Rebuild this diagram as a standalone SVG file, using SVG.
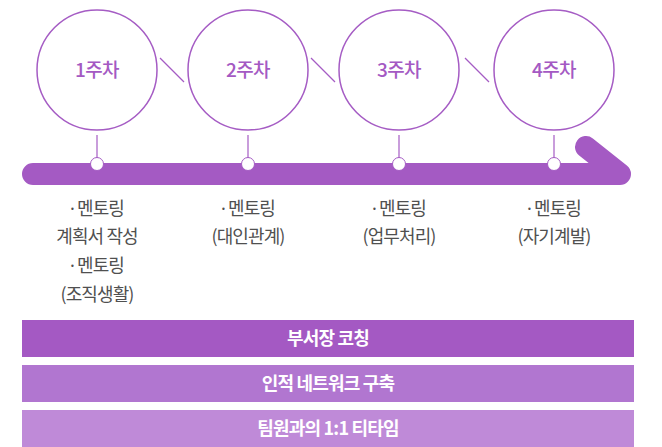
<svg xmlns="http://www.w3.org/2000/svg" width="662" height="447" viewBox="0 0 662 447">
<style>
.ring{fill:#fff;stroke:#a55cc4;stroke-width:1.5}
.wk{font-family:"Noto Sans CJK KR","Noto Sans",sans-serif;font-size:19px;font-weight:500;fill:#a459c3;text-anchor:middle;letter-spacing:-0.6px}
.lbl{font-family:"Noto Sans CJK KR","Noto Sans",sans-serif;font-size:18px;fill:#505050;text-anchor:middle;letter-spacing:-0.9px}
.md{font-family:"Noto Sans",sans-serif}
.band{font-family:"Noto Sans CJK KR","Noto Sans",sans-serif;font-size:18px;font-weight:700;fill:#fff;text-anchor:middle;letter-spacing:-0.8px}
.conn{stroke:#a55cc4;stroke-width:1.2;fill:none}
.dot{fill:#fff;stroke:#a55cc4;stroke-width:1}
</style>
<g id="timeline">
<path d="M33 174 H620 L586 147" fill="none" stroke="#a45ac3" stroke-width="22" stroke-linecap="round" stroke-linejoin="round"/>
</g>
<g id="connectors">
<line class="conn" x1="160" y1="58" x2="184" y2="82"/>
<line class="conn" x1="311" y1="58" x2="335" y2="82"/>
<line class="conn" x1="465" y1="58" x2="489" y2="82"/>
<line class="conn" x1="97" y1="135" x2="97" y2="158"/>
<line class="conn" x1="248" y1="135" x2="248" y2="158"/>
<line class="conn" x1="399" y1="135" x2="399" y2="158"/>
<line class="conn" x1="554" y1="135" x2="554" y2="158"/>
</g>
<g id="week1">
<circle class="ring" cx="97" cy="70" r="60"/>
<text class="wk" x="97" y="77">1주차</text>
<circle class="dot" cx="97" cy="164" r="6.5"/>
<text class="lbl" x="97" y="214.5"><tspan class="md">·</tspan> 멘토링</text>
<text class="lbl" x="97" y="243">계획서 작성</text>
<text class="lbl" x="97" y="272"><tspan class="md">·</tspan> 멘토링</text>
<text class="lbl" x="97" y="300.5">(조직생활)</text>
</g>
<g id="week2">
<circle class="ring" cx="248" cy="70" r="60"/>
<text class="wk" x="248" y="77">2주차</text>
<circle class="dot" cx="248" cy="164" r="6.5"/>
<text class="lbl" x="248" y="214.5"><tspan class="md">·</tspan> 멘토링</text>
<text class="lbl" x="248" y="243">(대인관계)</text>
</g>
<g id="week3">
<circle class="ring" cx="399" cy="70" r="60"/>
<text class="wk" x="399" y="77">3주차</text>
<circle class="dot" cx="399" cy="164" r="6.5"/>
<text class="lbl" x="399" y="214.5"><tspan class="md">·</tspan> 멘토링</text>
<text class="lbl" x="399" y="243">(업무처리)</text>
</g>
<g id="week4">
<circle class="ring" cx="554" cy="70" r="60"/>
<text class="wk" x="554" y="77">4주차</text>
<circle class="dot" cx="554" cy="164" r="6.5"/>
<text class="lbl" x="554" y="214.5"><tspan class="md">·</tspan> 멘토링</text>
<text class="lbl" x="554" y="243">(자기계발)</text>
</g>
<g id="band1">
<rect x="22" y="320" width="612" height="37" fill="#a459c3"/>
<text class="band" x="328" y="345">부서장 코칭</text>
</g>
<g id="band2">
<rect x="22" y="365" width="612" height="37" fill="#b176d0"/>
<text class="band" x="328" y="390">인적 네트워크 구축</text>
</g>
<g id="band3">
<rect x="22" y="410" width="612" height="37" fill="#bf8ad8"/>
<text class="band" x="328" y="435">팀원과의 1:1 티타임</text>
</g>
</svg>
